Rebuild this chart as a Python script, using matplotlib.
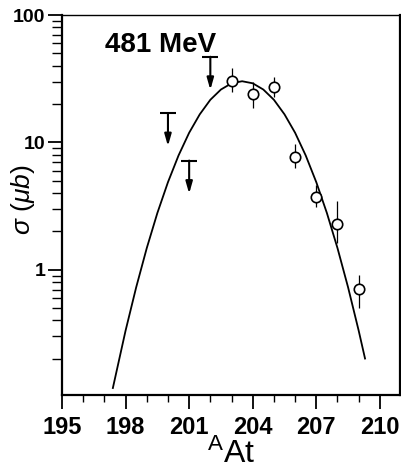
import numpy as np
import matplotlib
matplotlib.use("Agg")
import matplotlib.pyplot as plt
from matplotlib.ticker import FixedLocator, LogLocator, NullFormatter

plt.rcParams['font.family'] = ['Liberation Sans', 'DejaVu Sans']
plt.rcParams['mathtext.fontset'] = 'custom'
plt.rcParams['mathtext.rm'] = 'Liberation Sans'
plt.rcParams['mathtext.it'] = 'Liberation Sans:italic'

# measured cross sections (mass number, sigma in microbarn, error bar low/high)
mass = [203, 204, 205, 206, 207, 208, 209]
sigma = [30.4, 23.9, 27.1, 7.7, 3.7, 2.3, 0.71]
err_lo = [24.9, 18.5, 22.9, 6.3, 3.1, 1.62, 0.50]
err_hi = [38.4, 30.0, 32.4, 9.7, 4.6, 3.47, 0.91]

# upper limits
lim_mass = [200, 201, 202]
lim_sigma = [17.0, 7.2, 47.0]

# fitted distribution
fit_mass = [197.4, 198.0, 198.5, 199.0, 199.5, 200.0, 200.5, 201.0, 201.5,
            202.0, 202.5, 203.0, 203.5, 204.0, 204.5, 205.0, 205.5, 206.0,
            206.5, 207.0, 207.5, 208.0, 208.5, 209.0, 209.3]
fit_sigma = [0.118, 0.333, 0.728, 1.48, 2.79, 4.87, 7.9, 11.9, 16.6,
             21.6, 26.0, 29.1, 30.2, 29.1, 26.0, 21.6, 16.6, 11.9,
             7.9, 4.87, 2.79, 1.48, 0.728, 0.333, 0.201]

xticks = [195, 198, 201, 204, 207, 210]

fig = plt.figure(figsize=(4.01, 4.70), dpi=100)
ax = fig.add_axes([62/401, 1-395/470, 338/401, 380/470])
ax.set_yscale('log')
ax.set_xlim(195, 210.95)
ax.set_ylim(0.104, 100)

ax.plot(fit_mass, fit_sigma, color='black', lw=1.3, zorder=2)

yerr = [np.array(sigma) - np.array(err_lo), np.array(err_hi) - np.array(sigma)]
ax.errorbar(mass, sigma, yerr=yerr, fmt='o', ms=7.5, mfc='white', mec='black',
            mew=1.2, ecolor='black', elinewidth=0.9, capsize=0, zorder=3)

# upper limits: bar on top, arrow pointing down
for m, s in zip(lim_mass, lim_sigma):
    ax.plot([m], [s], marker='_', ms=11, mew=1.5, color='black')
    ax.annotate('', xy=(m, s*0.55), xytext=(m, s),
                arrowprops=dict(arrowstyle='-|>,head_length=0.7,head_width=0.2',
                                color='black', lw=1.5, shrinkA=0, shrinkB=0))

ax.text(0.127, 0.902, '481 MeV', transform=ax.transAxes, fontsize=20,
        fontweight='bold', va='baseline', ha='left')

ax.xaxis.set_major_locator(FixedLocator(xticks))
ax.xaxis.set_minor_locator(FixedLocator(range(195, 211)))
ax.yaxis.set_major_locator(LogLocator(base=10, numticks=10))
ax.yaxis.set_minor_locator(LogLocator(base=10, subs=np.arange(2, 10), numticks=10))
ax.yaxis.set_minor_formatter(NullFormatter())
ax.yaxis.set_major_formatter(plt.FuncFormatter(lambda v, p: '%g' % v if v >= 1 else ''))

ax.tick_params(axis='x', which='major', length=10, width=1.3, labelsize=17, pad=5, direction='out')
ax.tick_params(axis='x', which='minor', length=5, width=1.0, direction='out')
ax.tick_params(axis='y', which='major', length=10, width=1.3, labelsize=14, pad=2, direction='out')
ax.tick_params(axis='y', which='minor', length=7, width=1.0, direction='out')
for lab in ax.get_xticklabels() + ax.get_yticklabels():
    lab.set_fontweight('bold')

for side in ['left', 'bottom', 'right']:
    ax.spines[side].set_linewidth(1.6)
ax.spines['top'].set_linewidth(1.0)

ax.set_xlabel(r'$^{\mathrm{A}}$At', fontsize=23, labelpad=0)
ax.set_ylabel(r'$\sigma\ (\mu b)$', fontsize=19)
ax.yaxis.set_label_coords(-0.075, 0.513)

fig.savefig('out.png', dpi=100)
